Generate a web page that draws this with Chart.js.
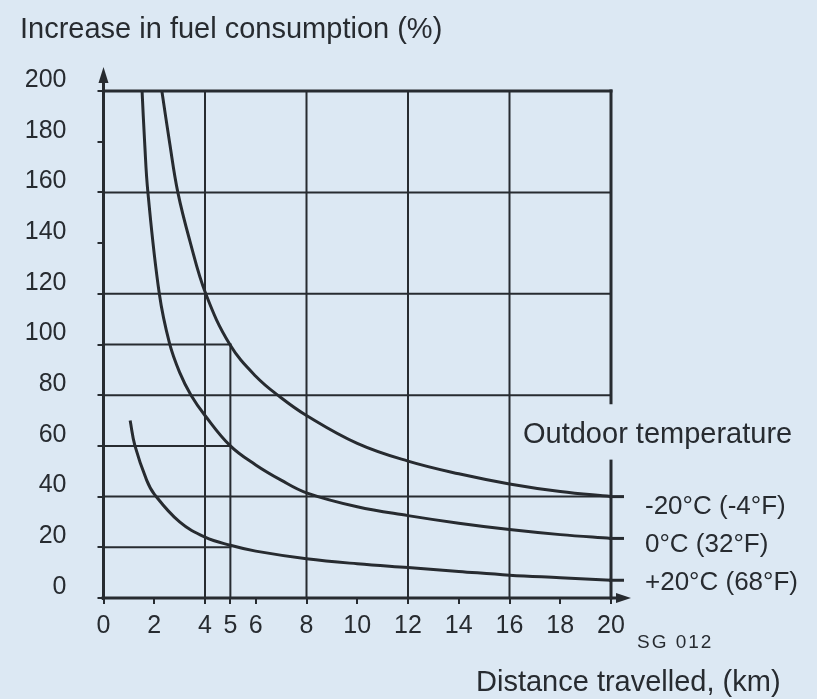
<!DOCTYPE html>
<html>
<head>
<meta charset="utf-8">
<title>Increase in fuel consumption</title>
<script src="https://cdn.jsdelivr.net/npm/chart.js@4/dist/chart.umd.min.js"></script>
<style>
  html, body { margin: 0; padding: 0; background: #dde8f2; }
  canvas { display: block; }
</style>
</head>
<body>
<canvas id="fuelChart" width="817" height="699"></canvas>
<script>
// distance travelled (km) and increase in fuel consumption (%), one pair per outdoor temperature
const kmCold  = [2.3, 2.6, 2.93, 3.4, 4.03, 4.98, 6, 7, 8, 10, 12, 14, 16, 18, 20];
const pctCold = [200, 180, 160, 141, 120, 100, 87.5, 79, 72, 61, 54, 49, 45, 42, 40];

const kmMild  = [1.52, 1.62, 1.75, 2.2, 2.6, 3, 3.45, 4, 5, 6, 7, 8, 10, 12, 14, 16, 18, 20];
const pctMild = [200, 180, 160, 120, 100.5, 89, 80, 72, 60, 52.5, 46.5, 41.5, 36, 32.5, 29.5, 27, 25, 23.5];

const kmWarm  = [1.05, 1.24, 1.7, 2, 3, 4, 5, 6, 8, 10, 12, 14, 16, 18, 20];
const pctWarm = [70, 60, 46.5, 41, 30, 24, 20.8, 18.5, 15.5, 13.5, 12, 10.5, 9, 8, 7];

const tempLabels = ['-20°C (-4°F)', '0°C (32°F)', '+20°C (68°F)'];

const xTicks = [0, 2, 4, 5, 6, 8, 10, 12, 14, 16, 18, 20];
const yTicks = [0, 20, 40, 60, 80, 100, 120, 140, 160, 180, 200];

// grid: long lines cross the whole chart, short ones stop at 5 km
const fullRows = [40, 80, 120, 160];
const shortRows = [20, 60, 100];
const fullCols = [4, 8, 12, 16];

const ink = '#272b30';
const paperColor = '#dce8f3';
const family = '"Liberation Sans", Arial, Helvetica, sans-serif';

function points(xs, ys) {
    return xs.map((x, i) => ({ x: x, y: ys[i] }));
}

function curve(label, xs, ys) {
    return {
        label: label,
        data: points(xs, ys),
        borderColor: ink,
        borderWidth: 3,
        pointRadius: 0,
        fill: false,
        tension: 0.4
    };
}

const paper = {
    id: 'paper',
    beforeDraw(chart) {
        const ctx = chart.ctx;
        ctx.save();
        ctx.fillStyle = paperColor;
        ctx.fillRect(0, 0, chart.width, chart.height);
        ctx.restore();
    },
    beforeDatasetsDraw(chart) {
        const { ctx, scales: { x, y } } = chart;
        const seg = (x0, y0, x1, y1) => {
            ctx.beginPath();
            ctx.moveTo(x.getPixelForValue(x0), y.getPixelForValue(y0));
            ctx.lineTo(x.getPixelForValue(x1), y.getPixelForValue(y1));
            ctx.stroke();
        };
        ctx.save();
        ctx.strokeStyle = ink;
        ctx.lineCap = 'square';
        ctx.lineWidth = 2;
        fullRows.forEach(v => seg(0, v, 20, v));
        shortRows.forEach(v => seg(0, v, 5, v));
        fullCols.forEach(v => seg(v, 0, v, 200));
        seg(5, 0, 5, 100);
        // frame: top edge and right edge, the right one left open for the legend heading
        ctx.lineWidth = 3;
        seg(0, 200, 20, 200);
        seg(20, 200, 20, 77);
        seg(20, 54, 20, 0);
        ctx.restore();
    },
    afterDatasetsDraw(chart) {
        const { ctx, scales: { x, y } } = chart;
        const x0 = x.getPixelForValue(0);
        const y0 = y.getPixelForValue(0);
        const xEnd = x.getPixelForValue(20);
        const yTop = y.getPixelForValue(200);

        ctx.save();
        ctx.strokeStyle = ink;
        ctx.fillStyle = ink;

        // axes with arrow heads
        ctx.lineWidth = 3;
        ctx.beginPath();
        ctx.moveTo(x0, y0 + 2);
        ctx.lineTo(x0, yTop - 14);
        ctx.moveTo(x0 - 2, y0);
        ctx.lineTo(xEnd + 10, y0);
        ctx.stroke();
        ctx.beginPath();
        ctx.moveTo(x0, yTop - 24);
        ctx.lineTo(x0 - 5, yTop - 8);
        ctx.lineTo(x0 + 5, yTop - 8);
        ctx.closePath();
        ctx.fill();
        ctx.beginPath();
        ctx.moveTo(xEnd + 20, y0);
        ctx.lineTo(xEnd + 5, y0 - 5);
        ctx.lineTo(xEnd + 5, y0 + 5);
        ctx.closePath();
        ctx.fill();

        // each curve runs a little past the 20 km line
        const ends = [pctCold, pctMild, pctWarm].map(a => a[a.length - 1]);
        ctx.lineWidth = 3;
        ends.forEach(v => {
            const py = y.getPixelForValue(v);
            ctx.beginPath();
            ctx.moveTo(xEnd - 2, py);
            ctx.lineTo(xEnd + 13, py);
            ctx.stroke();
        });

        // texts
        ctx.textBaseline = 'alphabetic';
        ctx.textAlign = 'left';
        ctx.font = '29px ' + family;
        ctx.fillText('Increase in fuel consumption (%)', 20, 38);
        ctx.fillText('Outdoor temperature', 523, 443);
        ctx.fillText('Distance travelled, (km)', 476, 691);

        ctx.font = '26px ' + family;
        const drop = [17, 14, 10];
        tempLabels.forEach((t, i) => {
            ctx.fillText(t, xEnd + 34, y.getPixelForValue(ends[i]) + drop[i]);
        });

        ctx.font = '19px ' + family;
        ctx.letterSpacing = '2px';
        ctx.fillText('SG 012', xEnd + 26, 648);
        ctx.restore();
    }
};

const ctx = document.getElementById('fuelChart').getContext('2d');
const fuelChart = new Chart(ctx, {
    type: 'line',
    data: {
        datasets: [
            curve(tempLabels[0], kmCold, pctCold),
            curve(tempLabels[1], kmMild, pctMild),
            curve(tempLabels[2], kmWarm, pctWarm)
        ]
    },
    options: {
        responsive: false,
        animation: false,
        devicePixelRatio: 1,
        layout: {
            padding: { left: 20, top: 91, right: 206, bottom: 61 }
        },
        plugins: {
            legend: { display: false },
            tooltip: { enabled: false }
        },
        scales: {
            x: {
                type: 'linear',
                min: 0,
                max: 20,
                afterBuildTicks: scale => { scale.ticks = xTicks.map(v => ({ value: v })); },
                afterFit: scale => { scale.height = 40; },
                border: { display: false },
                grid: { drawOnChartArea: false, drawTicks: true, tickLength: 6, color: ink, lineWidth: 2 },
                ticks: {
                    autoSkip: false,
                    maxRotation: 0,
                    padding: 7,
                    color: ink,
                    font: { family: family, size: 25 }
                }
            },
            y: {
                type: 'linear',
                min: 0,
                max: 200,
                afterBuildTicks: scale => { scale.ticks = yTicks.map(v => ({ value: v })); },
                afterFit: scale => { scale.width = 83.5; },
                border: { display: false },
                grid: { drawOnChartArea: false, drawTicks: true, tickLength: 6, color: ink, lineWidth: 2 },
                ticks: {
                    autoSkip: false,
                    padding: 31,
                    labelOffset: -11,
                    color: ink,
                    font: { family: family, size: 25 }
                }
            }
        }
    },
    plugins: [paper]
});
</script>
</body>
</html>
